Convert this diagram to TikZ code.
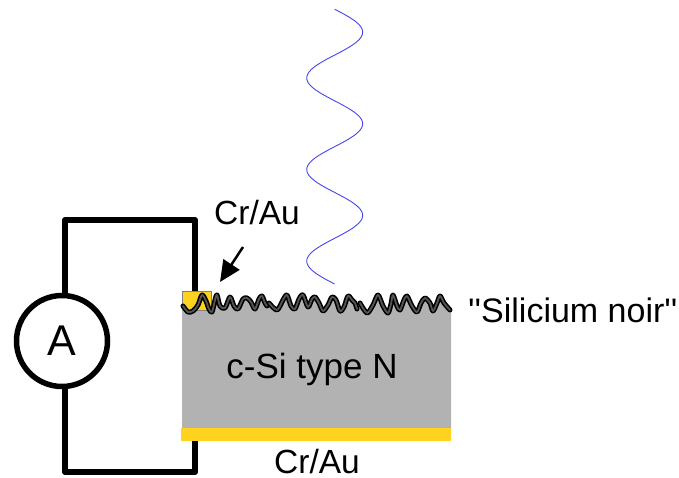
\documentclass[tikz,border=0pt]{standalone}
\usepackage{fontspec}
\setmainfont{Liberation Sans}
\newfontfamily\plainfont{Liberation Sans}
\usetikzlibrary{arrows.meta}
\definecolor{siGrey}{RGB}{178,178,178}
\definecolor{gold}{RGB}{255,210,32}
\definecolor{waveBlue}{RGB}{70,70,235}
\definecolor{roughIn}{RGB}{85,85,85}
\def\surfA{(183,306)(188,312)(193,311)(198,305)(202,295)(206,301)(209,309)(212,312)(215,300)(217,295)(220,306)(225,308)(230,297)(234,306)(238,309)(243,299)(247,298)(251,302)(255,309)(259,299)(262,296)(265,303)(267,306)}
\def\surfB{(269,303)(277,310)(283,300)(287,295)(291,306)(295,309)(299,299)(303,295)(308,307)(312,299)(315,297)(319,303)(323,311)(328,305)(332,297)(336,300)(340,311)(344,307)(348,296)(352,300)(355,303)(357,309)}
\def\surfC{(360,303)(367,313)(373,305)(378,295)(383,306)(388,313)(391,304)(393,295)(397,306)(400,310)(404,300)(407,296)(412,306)(417,312)(421,303)(425,298)(430,303)(433,311)(437,303)(440,296)(444,303)(450,310)}
\tikzset{
  wire/.style={line width=6pt,line cap=butt,line join=round},
  labeltext/.style={inner sep=0pt,font=\fontsize{33.5}{33.5}\selectfont},
  rough/.style={line join=round,line cap=round},
}
\begin{document}
\begin{tikzpicture}[x=1pt,y=-1pt]
\useasboundingbox (0,0) rectangle (679,478);
% wave
\draw[waveBlue,line width=0.9pt] plot[smooth,domain=9.25:284,samples=110,variable=\y] ({334.7+28*sin(3.93*(\y-9.25))},\y);
% substrate
\fill[siGrey] (182,304) -- plot[smooth] coordinates {\surfA} -- plot[smooth] coordinates {\surfB} -- plot[smooth] coordinates {\surfC} -- (451,310) -- (451,430) -- (182,430) -- cycle;
% top contact
\fill[gold,draw=gray,line width=1pt] (182,291) rectangle (211,310);
\fill[siGrey] (182,304) -- (183,306) -- (188,314) -- (200,313) -- (212,314) -- (212,320) -- (182,320) -- cycle;
\foreach \w/\c in {5pt/black,1.8pt/roughIn}{
  \draw[rough,line width=\w,color=\c] plot[smooth] coordinates {\surfA};
  \draw[rough,line width=\w,color=\c] plot[smooth] coordinates {\surfB};
  \draw[rough,line width=\w,color=\c] plot[smooth] coordinates {\surfC};
}
% back contact
\fill[gold] (181,428) rectangle (451,441);
% ammeter and wires
\node[circle,draw=black,line width=5.5pt,fill=white,minimum size=91pt,inner sep=0pt,font=\fontsize{43}{43}\selectfont] (amm) at (62,341) {A};
\coordinate (tl) at (65,220);
\coordinate (tr) at (195,220);
\coordinate (tc) at (195,291);
\coordinate (bl) at (65,472);
\coordinate (br) at (195,472);
\coordinate (bc) at (195,441);
\draw[wire] (amm.north -| tl) -- (tl) -- (tr) -- (tc);
\draw[wire] (amm.south -| bl) -- (bl) -- (br) -- (bc);
% labels
\node[labeltext] (topl) at (257,213) {Cr/Au};
\node[labeltext] (botl) at (317,461.5) {Cr/Au};
\node[labeltext,font=\fontsize{35}{35}\selectfont] (body) at (312,369) {c-Si type N};
\node[labeltext,anchor=west,font=\fontsize{34}{34}\selectfont\plainfont] (noir) at (468,310) {''Silicium noir''};
% arrow
\coordinate (tip) at (220,282);
\draw[line width=2.5pt,-{Triangle[length=21pt,width=19pt]}] (243,247) -- (tip);
\end{tikzpicture}
\end{document}
